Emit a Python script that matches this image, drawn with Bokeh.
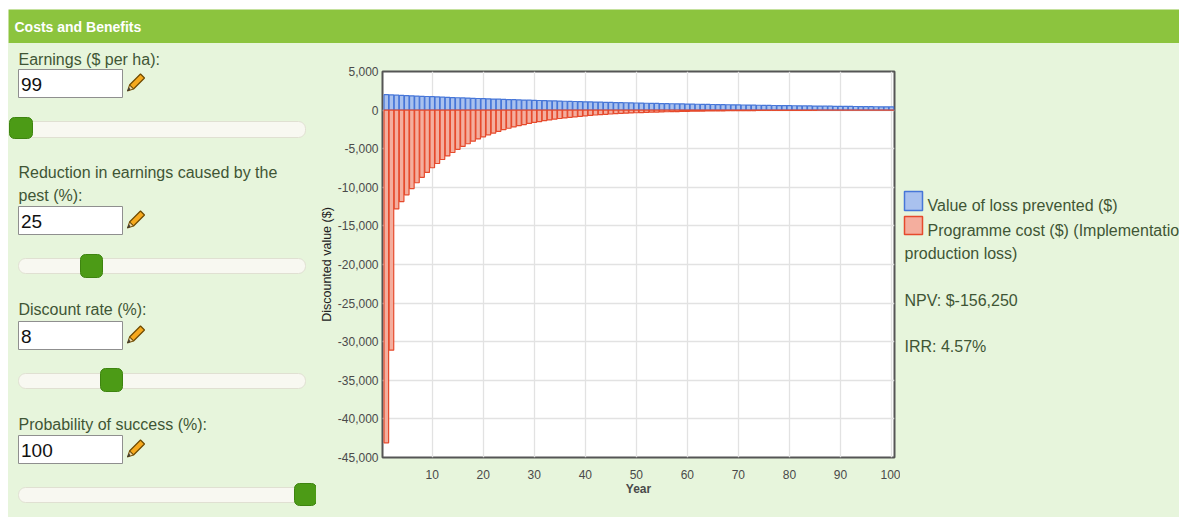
from bokeh.plotting import figure
from bokeh.layouts import column, row, Spacer
from bokeh.models import Range1d, FixedTicker, NumeralTickFormatter
from bokeh.core.properties import value
from bokeh.embed import file_html
from bokeh.resources import INLINE

# ---------------- data ----------------
years = list(range(1, 101))

loss_prevented = [
    2000, 1969, 1938, 1907, 1877, 1848, 1819, 1790, 1762, 1734,
    1707, 1680, 1653, 1627, 1602, 1577, 1552, 1527, 1503, 1480,
    1456, 1433, 1411, 1388, 1367, 1345, 1324, 1303, 1283, 1262,
    1242, 1223, 1204, 1185, 1166, 1148, 1130, 1112, 1094, 1077,
    1060, 1043, 1027, 1011, 995, 979, 964, 949, 934, 919,
    905, 890, 876, 863, 849, 836, 823, 810, 797, 784,
    772, 760, 748, 736, 724, 713, 702, 691, 680, 669,
    659, 648, 638, 628, 618, 608, 599, 589, 580, 571,
    562, 553, 544, 536, 527, 519, 511, 503, 495, 487,
    479, 472, 464, 457, 450, 443, 436, 429, 422, 415,
]

programme_cost = [
    -43100, -31100, -12800, -11850, -10980, -10160, -9410, -8710, -8070, -7470,
    -6920, -6400, -5930, -5490, -5080, -4710, -4360, -4030, -3740, -3460,
    -3200, -2970, -2750, -2540, -2350, -2180, -2020, -1870, -1730, -1600,
    -1480, -1370, -1270, -1180, -1090, -1010, -935, -865, -800, -742,
    -687, -636, -589, -545, -505, -467, -433, -401, -371, -343,
    -318, -294, -273, -252, -234, -216, -200, -186, -172, -159,
    -147, -136, -126, -117, -108, -100, -93, -86, -80, -74,
    -68, -63, -58, -54, -50, -46, -43, -40, -37, -34,
    -32, -29, -27, -25, -23, -22, -20, -18, -17, -16,
    -15, -14, -13, -12, -11, -10, -9, -9, -8, -7,
]

x_ticks = [10, 20, 30, 40, 50, 60, 70, 80, 90, 100]
y_ticks = [-45000, -40000, -35000, -30000, -25000, -20000, -15000,
           -10000, -5000, 0, 5000]

field_labels = [["Earnings ($ per ha):"],
                ["Reduction in earnings caused by the", "pest (%):"],
                ["Discount rate (%):"],
                ["Probability of success (%):"]]
field_values = ["99", "25", "8", "100"]

legend_labels = ["Value of loss prevented ($)",
                 "Programme cost ($) (Implementation",
                 "production loss)"]
npv_text = "NPV: $-156,250"
irr_text = "IRR: 4.57%"

# ---------------- style ----------------
FONT = "Liberation Sans"
BG = "#e7f5dc"
HEADER = "#8cc43e"
LABEL_COL = "#3f5535"
BLUE_LINE, BLUE_FILL = "#4676d8", "#a9c1ee"
RED_LINE, RED_FILL = "#e64a2c", "#f4ae9e"
BGSTYLE = {"background-color": BG}


def blank(w, h, xr, yr, bg):
    f = figure(width=w, height=h, x_range=Range1d(*xr), y_range=Range1d(*yr),
               output_backend="svg", toolbar_location=None, min_border=0)
    f.axis.visible = False
    f.grid.visible = False
    f.outline_line_color = None
    f.background_fill_color = bg
    f.border_fill_color = bg
    return f


def txt(f, x, y, s, size, color, style="normal", align="left"):
    f.text(x=[x], y=[y], text=[s], text_font=value(FONT), text_font_size=size,
           text_color=color, text_font_style=style, text_baseline="middle",
           text_align=align)


def rbox(f, l, r, t, b, fill, line, radius=0, lw=1):
    try:
        f.quad(left=[l], right=[r], top=[t], bottom=[b], fill_color=fill,
               line_color=line, line_width=lw, border_radius=radius)
    except Exception:
        f.quad(left=[l], right=[r], top=[t], bottom=[b], fill_color=fill,
               line_color=line, line_width=lw)


# ---------------- header (page y 9..43) ----------------
header = blank(1171, 34, (8, 1179), (43, 9), HEADER)
txt(header, 14, 26, "Costs and Benefits", "14px", "white", "bold")

# ---------------- left panel (page x 8..316, y 43..517) ----------------
left = blank(308, 474, (8, 316), (517, 43), BG)

label_y = [[58.5], [171.5, 195], [308.5], [423.5]]
box_top = [69, 206, 321, 435]
track = [(121, 137), (258, 273), (373, 388), (487, 502)]
handle = [(9, 32, 117, 138), (80, 102, 254, 277), (100, 122, 368, 391),
          (294, 316, 483, 505)]

for i in range(4):
    for s, yy in zip(field_labels[i], label_y[i]):
        txt(left, 18, yy, s, "16px", LABEL_COL)
    t = box_top[i]
    rbox(left, 18, 122, t, t + 28, "white", "#8f8f8f")
    txt(left, 20.5, t + 14.5, field_values[i], "19px", "#111111")
    # pencil icon
    left.patch([129.0, 140.0, 144.0, 133.0],
               [t + 15.5, t + 4.5, t + 8.5, t + 19.5],
               fill_color="#f6a91e", line_color="#6e4a00", line_width=1.2)
    left.patch([129.0, 133.0, 127.0], [t + 15.5, t + 19.5, t + 21.5],
               fill_color="#f3d9a4", line_color="#6e4a00", line_width=1.0)
    left.patch([127.0, 128.6, 129.6], [t + 21.5, t + 18.2, t + 19.9],
               fill_color="#333333", line_color="#333333", line_width=0.5)
    # slider
    ty0, ty1 = track[i]
    rbox(left, 18, 305, ty0, ty1, "#f8f8f1", "#e0e0d2", radius=7)
    hx0, hx1, hy0, hy1 = handle[i]
    rbox(left, hx0, hx1, hy0, hy1, "#4c9b16", "#3e8410", radius=5)

# ---------------- chart (page x 316..900, y 43..517) ----------------
p = figure(width=584, height=474, x_range=Range1d(0.25, 100.6),
           y_range=Range1d(-45000, 5000), output_backend="svg",
           toolbar_location=None, min_border_left=66, min_border_right=6,
           min_border_top=28, min_border_bottom=60)
p.background_fill_color = "white"
p.border_fill_color = BG
p.outline_line_color = "#555555"
p.outline_line_width = 2

p.vbar(x=years, top=loss_prevented, bottom=0, width=0.9,
       fill_color=BLUE_FILL, line_color=BLUE_LINE, line_width=1.2)
p.vbar(x=years, top=0, bottom=programme_cost, width=0.9,
       fill_color=RED_FILL, line_color=RED_LINE, line_width=1.2)

p.xaxis.ticker = FixedTicker(ticks=x_ticks)
p.yaxis.ticker = FixedTicker(ticks=y_ticks)
p.yaxis.formatter = NumeralTickFormatter(format="0,0")
for ax in (p.xaxis, p.yaxis):
    ax.axis_line_color = None
    ax.major_tick_line_color = None
    ax.minor_tick_line_color = None
    ax.major_tick_out = 0
    ax.major_tick_in = 0
    ax.minor_tick_out = 0
    ax.minor_tick_in = 0
    ax.major_label_text_font = FONT
    ax.major_label_text_font_size = "12px"
    ax.major_label_text_color = "#4a4a4a"
p.yaxis.major_label_standoff = 4
p.xaxis.major_label_standoff = 12
p.xaxis.axis_label = "Year"
p.xaxis.axis_label_text_font = FONT
p.xaxis.axis_label_text_font_size = "12px"
p.xaxis.axis_label_text_font_style = "bold"
p.xaxis.axis_label_text_color = "#4a4a4a"
p.xaxis.axis_label_standoff = 0
p.yaxis.axis_label = "Discounted value ($)"
p.yaxis.axis_label_text_font = FONT
p.yaxis.axis_label_text_font_size = "12.5px"
p.yaxis.axis_label_text_font_style = "normal"
p.yaxis.axis_label_text_color = "#222222"
p.yaxis.axis_label_standoff = 1
p.grid.grid_line_color = "#e2e2e2"
p.grid.grid_line_width = 1.3

# ---------------- right panel (page x 900..1179) ----------------
right = blank(279, 474, (900, 1179), (517, 43), BG)
rbox(right, 904, 922, 191, 210, BLUE_FILL, BLUE_LINE, lw=1.5)
rbox(right, 904, 922, 216, 234, RED_FILL, RED_LINE, lw=1.5)
txt(right, 927, 205, legend_labels[0], "16px", LABEL_COL)
txt(right, 927, 230, legend_labels[1], "16px", LABEL_COL)
txt(right, 904, 253, legend_labels[2], "16px", LABEL_COL)
txt(right, 904, 299.5, npv_text, "16px", LABEL_COL)
txt(right, 904, 346, irr_text, "16px", LABEL_COL)

body = row(column(left, styles=BGSTYLE), column(p, styles=BGSTYLE),
           column(right, styles=BGSTYLE), styles=BGSTYLE)
page = column(Spacer(width=1179, height=9),
              row(Spacer(width=8, height=508), column(header, body)))
open("out.html", "w").write(file_html(page, INLINE))
